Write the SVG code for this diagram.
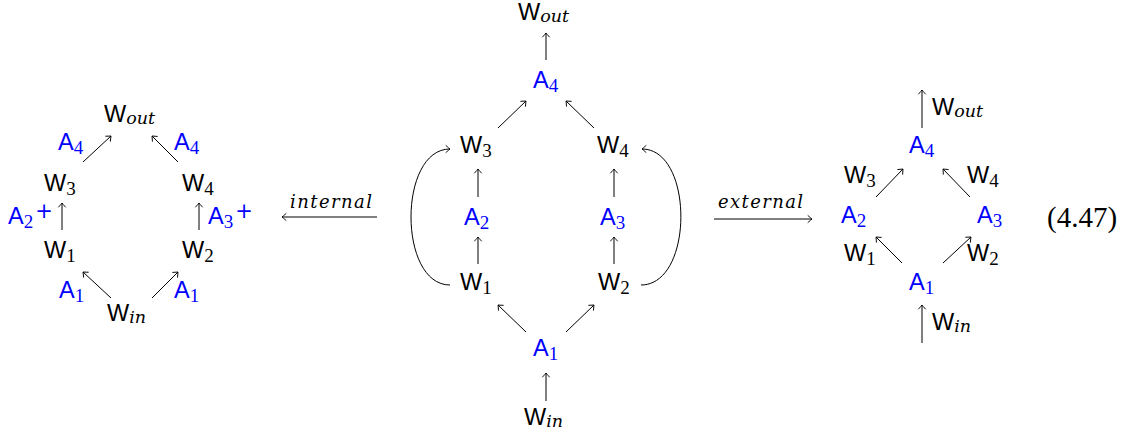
<svg xmlns="http://www.w3.org/2000/svg" width="1135" height="439" viewBox="0 0 1135 439">
<defs>
<marker id="tip" markerUnits="userSpaceOnUse" markerWidth="12" markerHeight="12" viewBox="-6 -6 12 12" refX="0" refY="0" orient="auto">
<path d="M -4,-3.4 Q -0.9,-0.7 0,0 Q -0.9,0.7 -4,3.4" fill="none" stroke="#000" stroke-width="0.9" stroke-linecap="round"/>
</marker>
<style>
.n{font-family:"Liberation Sans",Arial,sans-serif;font-size:23.5px;fill:#000}
.b{fill:#0000ff}
.s{font-family:"Liberation Serif","Times New Roman",serif;font-size:19px}
.i{font-family:"DejaVu Serif","Liberation Serif",serif;font-size:17.5px;font-style:italic}
.p{font-family:"DejaVu Sans",sans-serif;font-size:21px}
.lab{font-family:"DejaVu Serif","Liberation Serif",serif;font-size:18px;font-style:italic;fill:#000}
.eq{font-family:"Liberation Serif","Times New Roman",serif;font-size:29px;fill:#000}
.c line,.c path{stroke:#000;stroke-width:1;fill:none;marker-end:url(#tip)}
</style>
</defs>
<rect width="1135" height="439" fill="#fff"/>

<!-- Left diagram -->
<g id="L-Wout"><text class="n" x="104" y="122">W<tspan class="i" dy="2">out</tspan></text></g>
<g id="L-A4a"><text class="n b" x="58" y="150">A<tspan class="s" dy="4">4</tspan></text></g>
<g id="L-A4b"><text class="n b" x="174" y="150">A<tspan class="s" dy="4">4</tspan></text></g>
<g id="L-W3"><text class="n" x="44" y="191">W<tspan class="s" dy="4">3</tspan></text></g>
<g id="L-W4"><text class="n" x="182" y="191">W<tspan class="s" dy="4">4</tspan></text></g>
<g id="L-A2"><text class="n b" x="8" y="224">A<tspan class="s" dy="4">2</tspan><tspan class="p" dx="2" dy="-10">+</tspan></text></g>
<g id="L-A3"><text class="n b" x="208" y="224">A<tspan class="s" dy="4">3</tspan><tspan class="p" dx="2" dy="-10">+</tspan></text></g>
<g id="L-W1"><text class="n" x="44" y="258">W<tspan class="s" dy="4">1</tspan></text></g>
<g id="L-W2"><text class="n" x="182" y="258">W<tspan class="s" dy="4">2</tspan></text></g>
<g id="L-A1a"><text class="n b" x="59" y="298">A<tspan class="s" dy="4">1</tspan></text></g>
<g id="L-A1b"><text class="n b" x="174" y="298">A<tspan class="s" dy="4">1</tspan></text></g>
<g id="L-Win"><text class="n" x="107" y="321">W<tspan class="i" dy="2">in</tspan></text></g>

<!-- Middle diagram -->
<g id="M-Wout"><text class="n" x="518" y="20">W<tspan class="i" dy="2">out</tspan></text></g>
<g id="M-A4"><text class="n b" x="533" y="88">A<tspan class="s" dy="4">4</tspan></text></g>
<g id="M-W3"><text class="n" x="460" y="153">W<tspan class="s" dy="4">3</tspan></text></g>
<g id="M-W4"><text class="n" x="597" y="153">W<tspan class="s" dy="4">4</tspan></text></g>
<g id="M-A2"><text class="n b" x="464" y="225">A<tspan class="s" dy="4">2</tspan></text></g>
<g id="M-A3"><text class="n b" x="600" y="225">A<tspan class="s" dy="4">3</tspan></text></g>
<g id="M-W1"><text class="n" x="460" y="290">W<tspan class="s" dy="4">1</tspan></text></g>
<g id="M-W2"><text class="n" x="598" y="290">W<tspan class="s" dy="4">2</tspan></text></g>
<g id="M-A1"><text class="n b" x="533" y="356">A<tspan class="s" dy="4">1</tspan></text></g>
<g id="M-Win"><text class="n" x="524" y="425">W<tspan class="i" dy="2">in</tspan></text></g>

<!-- Right diagram -->
<g id="R-Wout"><text class="n" x="932" y="115">W<tspan class="i" dy="2">out</tspan></text></g>
<g id="R-A4"><text class="n b" x="909" y="153">A<tspan class="s" dy="4">4</tspan></text></g>
<g id="R-W3"><text class="n" x="844" y="183">W<tspan class="s" dy="4">3</tspan></text></g>
<g id="R-W4"><text class="n" x="967" y="183">W<tspan class="s" dy="4">4</tspan></text></g>
<g id="R-A2"><text class="n b" x="841" y="223">A<tspan class="s" dy="4">2</tspan></text></g>
<g id="R-A3"><text class="n b" x="977" y="223">A<tspan class="s" dy="4">3</tspan></text></g>
<g id="R-W1"><text class="n" x="844" y="261">W<tspan class="s" dy="4">1</tspan></text></g>
<g id="R-W2"><text class="n" x="967" y="261">W<tspan class="s" dy="4">2</tspan></text></g>
<g id="R-A1"><text class="n b" x="909" y="290">A<tspan class="s" dy="4">1</tspan></text></g>
<g id="R-Win"><text class="n" x="932" y="330">W<tspan class="i" dy="2">in</tspan></text></g>

<!-- Transformation labels -->
<g id="lab-internal"><text class="lab" x="290" y="208" textLength="82" lengthAdjust="spacing">internal</text></g>
<g id="lab-external"><text class="lab" x="718" y="208" textLength="85" lengthAdjust="spacing">external</text></g>
<g id="eqnum"><text class="eq" x="1047" y="227">(4.47)</text></g>

<g id="connectors" class="c">
<!-- left -->
<line x1="83" y1="162" x2="111" y2="136"/>
<line x1="178" y1="162" x2="152" y2="136"/>
<line x1="62" y1="230" x2="62" y2="203"/>
<line x1="199" y1="230" x2="199" y2="203"/>
<line x1="111" y1="298" x2="83" y2="272"/>
<line x1="152" y1="298" x2="178" y2="272"/>
<!-- middle -->
<line x1="546" y1="60" x2="546" y2="33"/>
<line x1="498" y1="128" x2="526" y2="101"/>
<line x1="594" y1="128" x2="566" y2="101"/>
<line x1="478" y1="197" x2="478" y2="169"/>
<line x1="614" y1="197" x2="614" y2="169"/>
<line x1="478" y1="264" x2="478" y2="237"/>
<line x1="614" y1="264" x2="614" y2="237"/>
<line x1="526" y1="332" x2="498" y2="305"/>
<line x1="566" y1="332" x2="594" y2="305"/>
<line x1="546" y1="401" x2="546" y2="373"/>
<path d="M 450 285 C 398 285, 398 149, 450 149"/>
<path d="M 641 285 C 694 285, 694 149, 642 149"/>
<!-- transformations -->
<line x1="377" y1="217" x2="282" y2="217"/>
<line x1="714" y1="219" x2="812" y2="219"/>
<!-- right -->
<line x1="922" y1="128" x2="922" y2="90"/>
<line x1="876" y1="197" x2="903" y2="169"/>
<line x1="970" y1="197" x2="943" y2="169"/>
<line x1="902" y1="263" x2="876" y2="237"/>
<line x1="943" y1="263" x2="971" y2="237"/>
<line x1="922" y1="343" x2="922" y2="305"/>
</g>
</svg>
